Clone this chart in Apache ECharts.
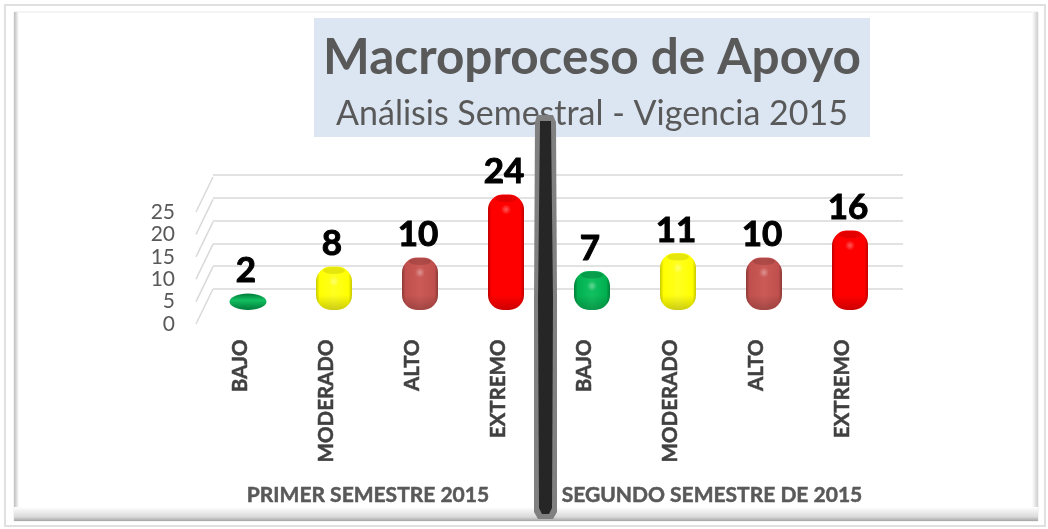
<!DOCTYPE html>
<html>
<head>
<meta charset="utf-8">
<style>
html, body { margin: 0; padding: 0; background: #fff; }
#main { width: 1048px; height: 529px; }
</style>
<script src="https://cdn.jsdelivr.net/npm/echarts@6/dist/echarts.min.js"></script>
</head>
<body>
<div id="main"></div>
<script>
var categories = ['BAJO', 'MODERADO', 'ALTO', 'EXTREMO', 'BAJO', 'MODERADO', 'ALTO', 'EXTREMO'];
var values = [2, 8, 10, 24, 7, 11, 10, 16];
var yTicks = [0, 5, 10, 15, 20, 25];
var titleText = 'Macroproceso de Apoyo';
var subtitleText = 'Análisis Semestral - Vigencia 2015';
var groupNames = ['PRIMER SEMESTRE 2015', 'SEGUNDO SEMESTRE DE 2015'];

// base colour, dark edge, light centre for each level
var barColors = [
    ['#00B050', '#007A38', '#12C060'],
    ['#FFFF00', '#C8C800', '#FFFF20'],
    ['#C0504D', '#8C3A38', '#CB5A57'],
    ['#FF0000', '#C00000', '#FF0000'],
    ['#00B050', '#007A38', '#12C060'],
    ['#FFFF00', '#C8C800', '#FFFF20'],
    ['#C0504D', '#8C3A38', '#CB5A57'],
    ['#FF0000', '#C00000', '#FF0000']
];

var font = 'Lato, "Open Sans", sans-serif';
var BAR_W = 36, BAR_FLOOR = 310, BAR_R = 15;

function bandGradient(c) {
    return new echarts.graphic.LinearGradient(0, 0, 1, 0, [
        { offset: 0, color: c[1] },
        { offset: 0.1, color: c[0] },
        { offset: 0.5, color: c[2] },
        { offset: 0.9, color: c[0] },
        { offset: 1, color: c[1] }
    ]);
}

var renderBar = function (params, api) {
    var idx = api.value(0);
    var val = api.value(1);
    var c = barColors[idx];
    var p = api.coord([idx, val]);
    var x = p[0] - BAR_W / 2;
    var h = BAR_FLOOR - p[1];
    var children = [];

    if (h < 24) {
        // flat bar looks like a disc
        children.push({
            type: 'ellipse',
            shape: { cx: p[0], cy: p[1] + h / 2, rx: BAR_W / 2 + 0.5, ry: h / 2 },
            style: {
                fill: new echarts.graphic.LinearGradient(0, 0, 0, 1, [
                    { offset: 0, color: c[1] },
                    { offset: 0.4, color: c[2] },
                    { offset: 1, color: c[1] }
                ])
            }
        });
    } else {
        children.push({
            type: 'rect',
            shape: { x: x, y: p[1], width: BAR_W, height: h, r: BAR_R },
            style: { fill: bandGradient(c) }
        });
        // shade at the foot
        children.push({
            type: 'rect',
            shape: { x: x, y: BAR_FLOOR - 15, width: BAR_W, height: 15, r: [0, 0, BAR_R, BAR_R] },
            style: {
                fill: new echarts.graphic.LinearGradient(0, 0, 0, 1, [
                    { offset: 0, color: 'rgba(0,0,0,0)' },
                    { offset: 1, color: 'rgba(0,0,0,0.2)' }
                ])
            }
        });
        // top cap
        children.push({
            type: 'ellipse',
            shape: { cx: p[0], cy: p[1] + 4, rx: 11, ry: 3.5 },
            style: { fill: c[1], opacity: 0.45 }
        });
        // highlight under the cap
        children.push({
            type: 'ellipse',
            shape: { cx: p[0], cy: p[1] + 15, rx: 7, ry: 5 },
            style: {
                fill: new echarts.graphic.RadialGradient(0.5, 0.5, 0.5, [
                    { offset: 0, color: 'rgba(255,255,255,0.35)' },
                    { offset: 1, color: 'rgba(255,255,255,0)' }
                ])
            }
        });
    }

    children.push({
        type: 'text',
        style: {
            text: String(val),
            x: p[0] - 2,
            y: p[1] - 5,
            align: 'center',
            verticalAlign: 'bottom',
            font: 'bold 35px ' + font,
            fill: '#000',
            stroke: '#000',
            lineWidth: 1
        }
    });
    return { type: 'group', children: children };
};

// depth lines between the front tick and the back wall
var renderDepth = function (params, api) {
    var p = api.coord([0, api.value(0)]);
    return {
        type: 'line',
        shape: { x1: p[0], y1: p[1], x2: p[0] + 17, y2: p[1] - 35 },
        style: { stroke: '#D9D9D9', lineWidth: 1.5 }
    };
};

var option = {
    backgroundColor: '#fff',
    animation: false,
    graphic: [
        // outer frame
        { type: 'rect', z: -10, shape: { x: 5, y: 5, width: 1040, height: 521 }, style: { fill: '#fff', stroke: '#E0E0E0', lineWidth: 2 } },
        { type: 'rect', z: -9, shape: { x: 14, y: 12, width: 1024, height: 509 },
            style: { fill: '#fff', stroke: '#EAEAEA', lineWidth: 1 } },
        // bevel, left, right and bottom
        { type: 'rect', z: -8, shape: { x: 14, y: 12, width: 5, height: 509 },
            style: { fill: new echarts.graphic.LinearGradient(0, 0, 1, 0, [{ offset: 0, color: '#BDBDBD' }, { offset: 1, color: '#FFFFFF' }]) } },
        { type: 'rect', z: -8, shape: { x: 1032, y: 12, width: 6, height: 509 },
            style: { fill: new echarts.graphic.LinearGradient(0, 0, 1, 0, [{ offset: 0, color: '#FFFFFF' }, { offset: 1, color: '#CFCFCF' }]) } },
        { type: 'rect', z: -8, shape: { x: 14, y: 507, width: 1024, height: 14 },
            style: { fill: new echarts.graphic.LinearGradient(0, 0, 0, 1, [{ offset: 0, color: '#FFFFFF' }, { offset: 0.7, color: '#DADADA' }, { offset: 1, color: '#A6A6A6' }]) } },
        // title box
        { type: 'rect', z: -5, shape: { x: 314, y: 18, width: 556, height: 119 }, style: { fill: '#DCE6F2' } },
        // separator between semesters, on top of the subtitle
        { type: 'polygon', z: 50, shape: { points: [[537, 115], [553, 115], [556, 122], [557, 300], [557, 512], [553, 519], [538, 519], [534, 512], [534, 300], [535, 122]] },
            style: { fill: '#808080' } },
        { type: 'polygon', z: 51, shape: { points: [[540, 121], [551, 121], [553, 300], [552, 508], [549, 514], [542, 514], [539, 508], [538, 300]] },
            style: { fill: '#262626' } }
    ],
    title: [
        { text: titleText, left: 592, top: 33, padding: 0, textAlign: 'center',
            textStyle: { fontFamily: font, fontSize: 49.5, fontWeight: 'bold', color: '#595959' } },
        { text: subtitleText, left: 592, top: 97, padding: 0, textAlign: 'center',
            textStyle: { fontFamily: font, fontSize: 34, fontWeight: 'normal', color: '#595959' } },
        { text: groupNames[0], left: 368, top: 485, padding: 0, textAlign: 'center',
            textStyle: { fontFamily: font, fontSize: 21, fontWeight: 'bold', color: '#595959', textBorderColor: '#595959', textBorderWidth: 0.5 } },
        { text: groupNames[1], left: 712, top: 485, padding: 0, textAlign: 'center',
            textStyle: { fontFamily: font, fontSize: 21, fontWeight: 'bold', color: '#595959', textBorderColor: '#595959', textBorderWidth: 0.5 } }
    ],
    grid: [
        // front edge with the tick labels
        { left: 196, width: 17, top: 212, height: 112 },
        // back wall
        { left: 213, width: 690, top: 175, height: 114 },
        // bars
        { left: 205, width: 688, top: 167.5, height: 135 }
    ],
    xAxis: [
        { gridIndex: 0, type: 'value', min: 0, max: 1, show: false },
        { gridIndex: 1, type: 'value', min: 0, max: 1, show: false },
        {
            gridIndex: 2,
            type: 'category',
            data: categories,
            axisLine: { show: false },
            axisTick: { show: false },
            axisLabel: {
                interval: 0,
                rotate: 90,
                margin: 37,
                verticalAlign: 'bottom',
                lineHeight: 15,
                fontFamily: font,
                fontSize: 20.5,
                fontWeight: 'bold',
                color: '#404040',
                textBorderColor: '#404040',
                textBorderWidth: 0.5
            }
        }
    ],
    yAxis: [
        {
            gridIndex: 0,
            type: 'value',
            min: yTicks[0],
            max: yTicks[yTicks.length - 1],
            interval: 5,
            axisLine: { show: false },
            axisTick: { show: false },
            splitLine: { show: false },
            axisLabel: { margin: 21, fontFamily: font, fontSize: 21, color: '#595959' }
        },
        {
            gridIndex: 1,
            type: 'value',
            min: yTicks[0],
            max: yTicks[yTicks.length - 1],
            interval: 5,
            axisLine: { show: false },
            axisTick: { show: false },
            axisLabel: { show: false },
            splitLine: { lineStyle: { color: '#D9D9D9', width: 1.5 } }
        },
        { gridIndex: 2, type: 'value', min: 0, max: 30, show: false }
    ],
    series: [
        {
            type: 'custom',
            xAxisIndex: 0,
            yAxisIndex: 0,
            z: 1,
            renderItem: renderDepth,
            encode: { y: 0 },
            data: yTicks.map(function (t) { return [t]; })
        },
        {
            type: 'custom',
            xAxisIndex: 2,
            yAxisIndex: 2,
            z: 5,
            renderItem: renderBar,
            encode: { x: 0, y: 1 },
            data: values.map(function (v, i) { return [i, v]; })
        }
    ]
};

var myChart = echarts.init(document.getElementById('main'), null, { renderer: 'canvas' });
myChart.setOption(option);
</script>
</body>
</html>
